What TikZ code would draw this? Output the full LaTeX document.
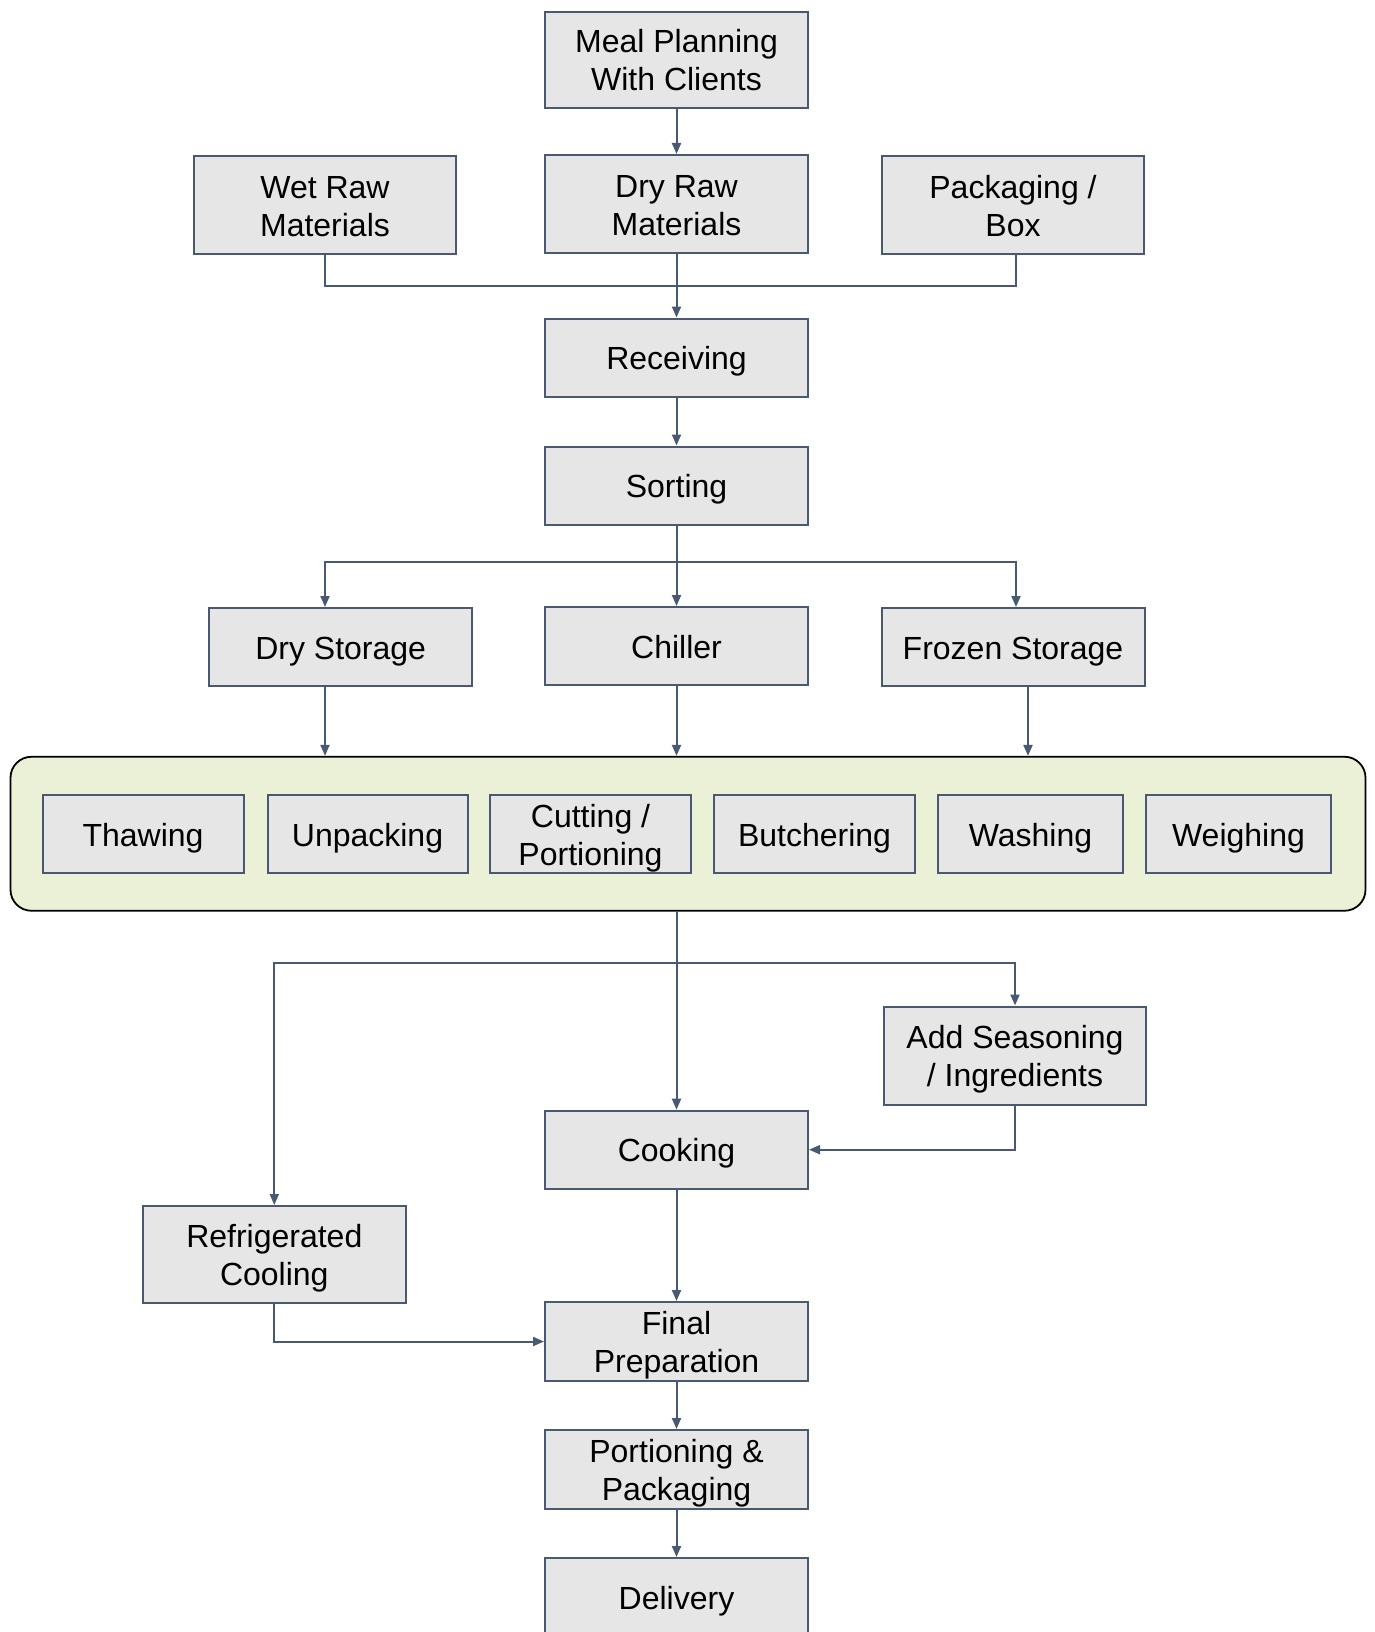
\documentclass[tikz,border=0pt]{standalone}
\usepackage{fontspec}
\setmainfont{Liberation Sans}
\usetikzlibrary{arrows.meta}
\definecolor{edgec}{RGB}{74,89,114}
\definecolor{boxfill}{RGB}{230,230,230}
\definecolor{grpfill}{RGB}{235,241,214}
% one-line and two-line labels with a fixed baseline position
\newcommand{\bxa}[1]{\raisebox{-12pt}[0pt][0pt]{#1}}
\newcommand{\bxb}[2]{\raisebox{6.8pt}[0pt][0pt]{\begin{tabular}[t]{@{}c@{}}#1\\#2\end{tabular}}}
\tikzset{
  pbox/.style={draw=edgec, fill=boxfill, line width=2pt, minimum height=78pt, minimum width=263pt,
    inner sep=0pt, font=\fontsize{32}{38}\selectfont},
  conn/.style={draw=edgec, line width=2pt},
  arr/.style={conn, -{Triangle[length=11pt,width=9pt]}},
}
\begin{document}
\begin{tikzpicture}[x=1pt,y=-1pt]
\useasboundingbox (0,0) rectangle (1375,1632);
% columns
\coordinate (lcol) at (325,0);
\coordinate (rcol) at (1016,0);
\coordinate (rcol2) at (1028,0);
\coordinate (jn) at (677,286);
\coordinate (br) at (677,562);
\coordinate (br2) at (677,963);
% top
\node[pbox, minimum height=96pt] (meal) at (676.5,59.75) {\bxb{Meal Planning}{With Clients}};
\node[pbox, minimum height=98pt] (dry) at (676.5,204) {\bxb{Dry Raw}{Materials}};
\node[pbox, minimum height=98pt, minimum width=262pt] (wet) at (325,205) {\bxb{Wet Raw}{Materials}};
\node[pbox, minimum height=98pt, minimum width=262pt] (pk) at (1013,205) {\bxb{Packaging /}{Box}};
\node[pbox] (recv) at (676.5,357.5) {\bxa{Receiving}};
\node[pbox] (sort) at (676.5,485.5) {\bxa{Sorting}};
\node[pbox] (ds) at (340.7,647) {\bxa{Dry Storage}};
\node[pbox] (chill) at (676.5,646) {\bxa{Chiller}};
\node[pbox] (fz) at (1013,647) {\bxa{Frozen Storage}};
% group
\node[draw=black, fill=grpfill, line width=1.8pt, rounded corners=21pt, minimum width=1355pt, minimum height=154pt, inner sep=0pt] (grp) at (688,833.75) {};
\node[pbox, minimum width=201pt] (thaw) at (143,834) {\bxa{Thawing}};
\node[pbox, minimum width=200pt] (unp) at (367.5,834) {\bxa{Unpacking}};
\node[pbox, minimum width=201pt] (cut) at (590.5,834) {\bxb{Cutting /}{Portioning}};
\node[pbox, minimum width=201pt] (butch) at (814.5,834) {\bxa{Butchering}};
\node[pbox, minimum width=185pt] (wash) at (1030.5,834) {\bxa{Washing}};
\node[pbox, minimum width=185pt] (weigh) at (1238.5,834) {\bxa{Weighing}};
% bottom
\node[pbox, minimum height=98pt, minimum width=262pt] (as) at (1015,1055.5) {\bxb{Add Seasoning}{/ Ingredients}};
\node[pbox] (cook) at (676.5,1149.7) {\bxa{Cooking}};
\node[pbox, minimum height=97pt] (rc) at (274.3,1254.5) {\bxb{Refrigerated}{Cooling}};
\node[pbox, minimum height=79pt] (fin) at (676.5,1341.5) {\bxb{Final}{Preparation}};
\node[pbox, minimum height=79pt] (port) at (676.5,1469.5) {\bxb{Portioning \&}{Packaging}};
\node[pbox] (del) at (676.5,1597) {\bxa{Delivery}};
% connectors
\draw[arr] (meal.south) -- (dry.north);
\draw[conn] (wet.south) -- (wet.south |- jn) -- (jn -| rcol) -- (pk.south -| rcol);
\draw[arr] (dry.south) -- (recv.north);
\draw[arr] (recv.south) -- (sort.north);
\draw[arr] (sort.south) -- (chill.north);
\draw[arr] (br) -| (ds.north -| lcol);
\draw[arr] (br) -| (fz.north -| rcol);
\draw[arr] (ds.south -| lcol) -- (grp.north -| lcol);
\draw[arr] (chill.south) -- (grp.north -| chill.south);
\draw[arr] (fz.south -| rcol2) -- (grp.north -| rcol2);
\draw[arr] (cook.north |- grp.south) -- (cook.north);
\draw[arr] (br2) -| (rc.north);
\draw[arr] (br2) -| (as.north);
\draw[arr] (as.south) |- (cook.east);
\draw[arr] (rc.south) |- (fin.west);
\draw[arr] (cook.south) -- (fin.north);
\draw[arr] (fin.south) -- (port.north);
\draw[arr] (port.south) -- (del.north);
\end{tikzpicture}
\end{document}
